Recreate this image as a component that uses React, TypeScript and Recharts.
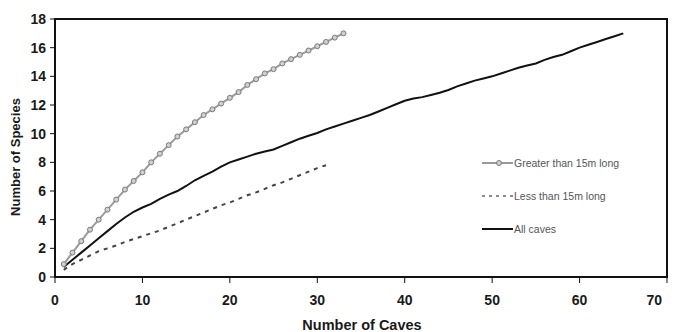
import React from 'react';
import { LineChart, Line, XAxis, YAxis, ReferenceArea } from 'recharts';

// Species accumulation, caves numbered 1..n
const greaterThan15m = [
  0.9, 1.7, 2.5, 3.3, 4.0, 4.7, 5.4, 6.1, 6.7, 7.3,
  8.0, 8.6, 9.2, 9.8, 10.3, 10.8, 11.3, 11.7, 12.1, 12.5,
  12.9, 13.4, 13.8, 14.2, 14.5, 14.9, 15.2, 15.5, 15.8, 16.1,
  16.4, 16.7, 17.0,
];
const lessThan15m = [
  0.5, 0.9, 1.2, 1.5, 1.8, 2.0, 2.2, 2.45, 2.65, 2.85,
  3.05, 3.25, 3.5, 3.75, 4.0, 4.25, 4.5, 4.75, 5.0, 5.2,
  5.45, 5.7, 5.9, 6.15, 6.4, 6.6, 6.85, 7.1, 7.35, 7.6,
  7.8,
];
const allCaves = [
  0.7, 1.2, 1.7, 2.2, 2.7, 3.2, 3.7, 4.15, 4.55, 4.85,
  5.1, 5.45, 5.75, 6.0, 6.35, 6.75, 7.05, 7.35, 7.7, 8.0,
  8.2, 8.4, 8.6, 8.75, 8.9, 9.15, 9.4, 9.65, 9.85, 10.05,
  10.3, 10.5, 10.7, 10.9, 11.1, 11.3, 11.55, 11.8, 12.05, 12.3,
  12.45, 12.55, 12.7, 12.85, 13.05, 13.3, 13.5, 13.7, 13.85, 14.0,
  14.2, 14.4, 14.6, 14.75, 14.9, 15.15, 15.35, 15.5, 15.75, 16.0,
  16.2, 16.4, 16.6, 16.8, 17.0,
];
const xTicks = [0, 10, 20, 30, 40, 50, 60, 70];
const yTicks = [0, 2, 4, 6, 8, 10, 12, 14, 16, 18];
const seriesNames = ['Greater than 15m long', 'Less than 15m long', 'All caves'];
const xTitle = 'Number of Caves';
const yTitle = 'Number of Species';

const toPoints = (vals: number[]) => vals.map((v, i) => ({ caves: i + 1, species: v }));
const greaterData = toPoints(greaterThan15m);
const lessData = toPoints(lessThan15m);
const allData = toPoints(allCaves);

const FONT = '"Liberation Sans", Arial, sans-serif';
const tickStyle = { fill: '#1a1a1a', fontSize: 14, fontWeight: 'bold' as const, fontFamily: FONT };

const XTick = (props: any) => {
  const { x, y, payload } = props;
  const last = payload.value === xTicks[xTicks.length - 1];
  return (
    <text x={last ? x + 2 : x} y={y} dy="0.71em" textAnchor={last ? 'end' : 'middle'}
      fill="#1a1a1a" fontSize={14} fontWeight="bold" fontFamily={FONT}>{payload.value}</text>
  );
};

const XTitle = (props: any) => {
  const vb = props.viewBox || {};
  return (
    <text x={vb.x + vb.width / 2 + 1} y={322} textAnchor="middle" fill="#1a1a1a"
      fontSize={14.5} fontWeight="bold" fontFamily={FONT}>{xTitle}</text>
  );
};

const YTitle = (props: any) => {
  const vb = props.viewBox || {};
  const cx = 7;
  const cy = vb.y + vb.height / 2 + 9;
  return (
    <text x={cx} y={cy} transform={`rotate(-90 ${cx} ${cy})`} textAnchor="middle" dominantBaseline="central"
      fill="#1a1a1a" fontSize={13} fontWeight="bold" fontFamily={FONT}>{yTitle}</text>
  );
};

const LegendBox = () => {
  const row = { display: 'flex', alignItems: 'center', height: 33 } as const;
  const txt = { fontFamily: FONT, fontSize: 10.5, color: '#555', marginLeft: 1, whiteSpace: 'nowrap' } as const;
  return (
    <div style={{ position: 'absolute', left: 474, top: 138 }}>
      <div style={row}>
        <svg width={31} height={10}>
          <line x1={0} y1={5} x2={31} y2={5} stroke="#999" strokeWidth={2} />
          <circle cx={17} cy={5} r={2.5} fill="#d0d0d0" stroke="#7a7a7a" strokeWidth={1} />
        </svg>
        <span style={txt}>{seriesNames[0]}</span>
      </div>
      <div style={row}>
        <svg width={31} height={10}>
          <line x1={0} y1={5} x2={31} y2={5} stroke="#666" strokeWidth={1.5} strokeDasharray="3 4" />
        </svg>
        <span style={txt}>{seriesNames[1]}</span>
      </div>
      <div style={row}>
        <svg width={31} height={10}>
          <line x1={0} y1={5} x2={31} y2={5} stroke="#111" strokeWidth={2} />
        </svg>
        <span style={txt}>{seriesNames[2]}</span>
      </div>
    </div>
  );
};

export default function App() {
  return (
    <div style={{ position: 'relative', width: 660, height: 324 }}>
      <LineChart width={660} height={324} margin={{ top: 11, right: 1, bottom: 0, left: 0 }}>
        <XAxis
          dataKey="caves"
          type="number"
          domain={[0, 70]}
          ticks={xTicks}
          allowDataOverflow
          height={55}
          tick={<XTick />}
          tickSize={6}
          tickMargin={12}
          tickLine={{ stroke: '#111', strokeWidth: 1 }}
          axisLine={{ stroke: '#111', strokeWidth: 2 }}
          label={<XTitle />}
        />
        <YAxis
          dataKey="species"
          type="number"
          domain={[0, 18]}
          ticks={yTicks}
          allowDataOverflow
          width={47}
          tick={tickStyle}
          tickSize={5}
          tickMargin={4}
          tickLine={{ stroke: '#111', strokeWidth: 1 }}
          axisLine={{ stroke: '#111', strokeWidth: 2 }}
          label={<YTitle />}
        />
        <ReferenceArea x1={0} x2={70} y1={0} y2={18} fill="none" stroke="#111" strokeWidth={2} />
        <Line
          data={lessData}
          dataKey="species"
          name={seriesNames[1]}
          stroke="#444"
          strokeWidth={2}
          strokeDasharray="4 5"
          dot={false}
          isAnimationActive={false}
        />
        <Line
          data={allData}
          dataKey="species"
          name={seriesNames[2]}
          stroke="#111"
          strokeWidth={2}
          dot={false}
          isAnimationActive={false}
        />
        <Line
          data={greaterData}
          dataKey="species"
          name={seriesNames[0]}
          stroke="#9a9a9a"
          strokeWidth={2}
          dot={{ r: 2.5, stroke: '#7a7a7a', strokeWidth: 1, fill: '#d0d0d0' }}
          isAnimationActive={false}
        />
      </LineChart>
      <LegendBox />
    </div>
  );
}
